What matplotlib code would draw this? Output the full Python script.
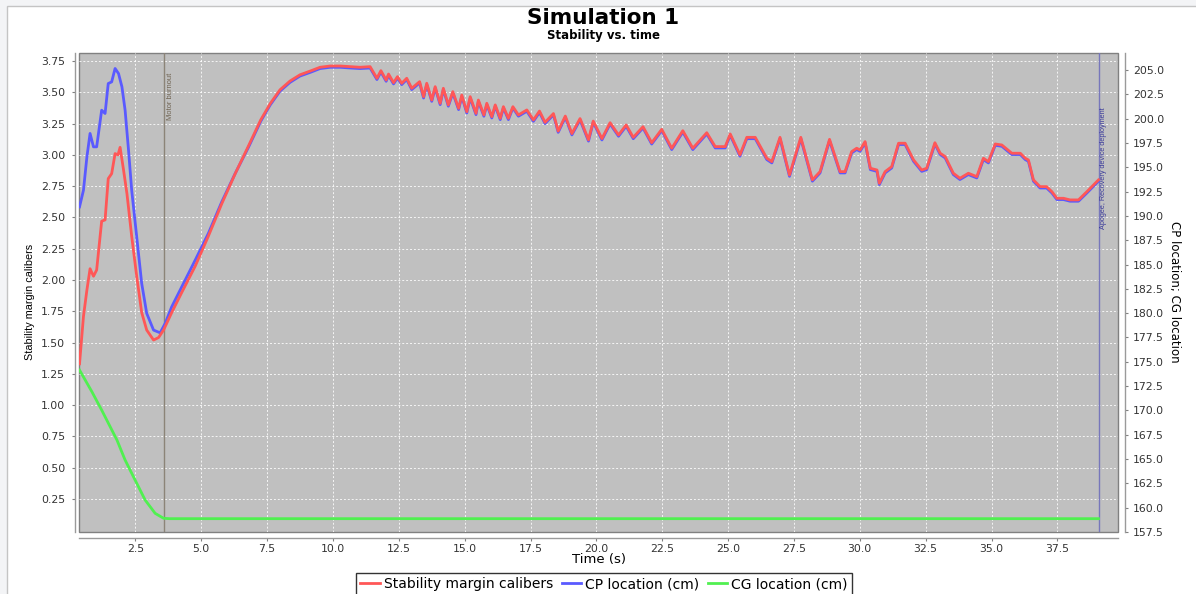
import matplotlib
matplotlib.use("Agg")
import numpy as np
import matplotlib.pyplot as plt
from matplotlib.patches import Rectangle
from matplotlib.ticker import FormatStrFormatter

# Stability margin (calibers) -> left axis
stab_time = [0.38, 0.53, 0.66, 0.78, 0.91, 1.03, 1.22, 1.35, 1.47, 1.60, 1.73, 1.84, 1.92,
             2.05, 2.18, 2.36, 2.55, 2.74, 2.93, 3.19, 3.38, 3.57, 3.88, 4.26, 4.77, 5.27,
             5.78, 6.29, 6.79, 7.26, 7.62, 7.99, 8.37, 8.75, 9.14, 9.51, 9.89, 10.28, 10.65,
             11.03, 11.41, 11.67, 11.82, 12.02, 12.11, 12.30, 12.45, 12.61, 12.80, 12.99,
             13.29, 13.44, 13.56, 13.75, 13.88, 14.07, 14.19, 14.38, 14.55, 14.77, 14.89,
             15.08, 15.21, 15.43, 15.52, 15.73, 15.84, 16.03, 16.16, 16.35, 16.47, 16.66,
             16.83, 17.04, 17.36, 17.61, 17.84, 18.05, 18.37, 18.55, 18.82, 19.07, 19.38,
             19.70, 19.88, 20.21, 20.52, 20.84, 21.13, 21.40, 21.77, 22.10, 22.48, 22.86,
             23.28, 23.66, 24.19, 24.51, 24.89, 25.08, 25.45, 25.71, 26.03, 26.47, 26.66,
             26.97, 27.33, 27.76, 28.20, 28.49, 28.85, 29.25, 29.44, 29.69, 29.88, 30.01,
             30.20, 30.40, 30.65, 30.74, 30.96, 31.21, 31.47, 31.72, 32.04, 32.35, 32.54,
             32.85, 33.05, 33.24, 33.55, 33.80, 34.12, 34.44, 34.69, 34.88, 35.14, 35.39,
             35.77, 36.09, 36.28, 36.40, 36.59, 36.84, 37.09, 37.29, 37.48, 37.73, 37.98,
             38.30, 38.62, 39.06]
stab_cal = [1.33, 1.71, 1.92, 2.09, 2.03, 2.08, 2.47, 2.48, 2.81, 2.85, 3.01, 3.00, 3.06,
            2.88, 2.69, 2.35, 2.03, 1.74, 1.60, 1.52, 1.54, 1.60, 1.74, 1.90, 2.11, 2.35,
            2.61, 2.85, 3.07, 3.28, 3.41, 3.52, 3.59, 3.64, 3.67, 3.70, 3.71, 3.71, 3.705,
            3.70, 3.705, 3.612, 3.673, 3.598, 3.646, 3.577, 3.625, 3.572, 3.612, 3.532,
            3.585, 3.465, 3.572, 3.438, 3.545, 3.412, 3.532, 3.399, 3.505, 3.372, 3.478,
            3.345, 3.465, 3.332, 3.438, 3.319, 3.412, 3.305, 3.399, 3.292, 3.385, 3.292,
            3.385, 3.319, 3.359, 3.279, 3.35, 3.26, 3.33, 3.19, 3.31, 3.17, 3.29,
            3.12, 3.27, 3.13, 3.257, 3.159, 3.239, 3.140, 3.225, 3.097, 3.204, 3.053,
            3.193, 3.053, 3.177, 3.066, 3.066, 3.167, 3.00, 3.140, 3.140, 2.973, 2.946,
            3.140, 2.839, 3.140, 2.800, 2.866, 3.124, 2.866, 2.866, 3.026, 3.053, 3.039,
            3.106, 2.893, 2.879, 2.773, 2.866, 2.906, 3.093, 3.093, 2.959, 2.879, 2.893,
            3.097, 3.013, 2.986, 2.853, 2.813, 2.853, 2.826, 2.973, 2.946, 3.087, 3.079,
            3.013, 3.013, 2.973, 2.959, 2.800, 2.746, 2.746, 2.706, 2.653, 2.653, 2.640,
            2.640, 2.706, 2.800]

# CP location (cm) -> right axis
cp_time = [0.38, 0.53, 0.66, 0.78, 0.91, 1.03, 1.22, 1.35, 1.47, 1.60, 1.73, 1.86, 1.99,
           2.11, 2.24, 2.36, 2.55, 2.74, 2.93, 3.19, 3.44, 3.63, 3.88, 4.26, 4.77, 5.27,
           5.78, 6.29] + stab_time[28:]
cp_cm = [190.93, 192.65, 196.07, 198.48, 197.10, 197.10, 200.87, 200.53, 203.61, 203.78,
         205.16, 204.64, 203.27, 200.87, 196.76, 192.65, 187.85, 183.06, 179.98, 178.26,
         177.98, 178.95, 180.66, 182.71, 185.45, 188.20, 191.45, 194.37,
         197.04, 199.74, 201.42, 202.83, 203.73, 204.38, 204.76, 205.15, 205.28, 205.28,
         205.21, 205.15, 205.21, 204.02, 204.80, 203.84, 204.45, 203.57, 204.18, 203.50,
         204.02, 202.99, 203.67, 202.12, 203.50, 201.78, 203.15, 201.44, 202.99, 201.28,
         202.64, 200.93, 202.29, 200.58, 202.12, 200.41, 201.78, 200.25, 201.44, 200.07,
         201.28, 199.90, 201.10, 199.90, 201.10, 200.25, 200.76, 199.73, 200.64, 199.49,
         200.39, 198.59, 200.13, 198.33, 199.87, 197.69, 199.62, 197.81, 199.45, 198.19,
         199.22, 197.94, 199.04, 197.39, 198.77, 196.82, 198.62, 196.82, 198.42, 196.99,
         196.99, 198.29, 196.14, 197.94, 197.94, 195.79, 195.45, 197.94, 194.07, 197.94,
         193.57, 194.42, 197.74, 194.42, 194.42, 196.48, 196.82, 196.64, 197.51, 194.76,
         194.58, 193.22, 194.42, 194.93, 197.34, 197.34, 195.61, 194.58, 194.76, 197.39,
         196.31, 195.96, 194.25, 193.74, 194.25, 193.90, 195.79, 195.45, 197.26, 197.16,
         196.31, 196.31, 195.79, 195.61, 193.57, 192.87, 192.87, 192.36, 191.68, 191.68,
         191.51, 191.51, 192.36, 193.57]

# CG location (cm) -> right axis
cg_time = [0.38, 0.85, 1.22, 1.80, 2.11, 2.49, 2.87, 3.25, 3.57, 3.80, 39.06]
cg_cm = [174.15, 171.92, 170.04, 166.96, 164.90, 162.84, 160.79, 159.42, 158.91, 158.87, 158.87]

motor_burnout_t = 3.59
apogee_t = 39.07

W, H = 1196, 594
fig = plt.figure(figsize=(W / 100, H / 100), dpi=100, facecolor='#f3f4f6')
fig.add_artist(Rectangle((7 / W, -0.1), 1.1, 1.1 - 6 / H, transform=fig.transFigure,
                         facecolor='white', edgecolor='#c4c4c4', lw=1, zorder=-1))

ax1 = fig.add_axes([79 / W, 1 - 532 / H, (1118 - 79) / W, (532 - 53) / H])
ax1.set_facecolor('#c0c0c0')
ax1.patch.set_edgecolor('#808080')
ax1.patch.set_linewidth(1.0)
ax2 = ax1.twinx()

ax1.set_xlim(0.36, 39.8)
ax1.set_ylim(-0.014, 3.814)
ax2.set_ylim(157.5, 206.75)

ax1.set_xticks(np.arange(2.5, 39, 2.5))
ax1.set_yticks(np.arange(0.25, 3.8, 0.25))
ax2.set_yticks(np.arange(157.5, 206, 2.5))
ax1.xaxis.set_major_formatter(FormatStrFormatter('%.1f'))
ax1.yaxis.set_major_formatter(FormatStrFormatter('%.2f'))
ax2.yaxis.set_major_formatter(FormatStrFormatter('%.1f'))

ax1.grid(True, color='white', linestyle=(0, (2, 2)), linewidth=0.7, alpha=0.85)
ax1.set_axisbelow(True)

for s in ['top', 'right']:
    ax1.spines[s].set_visible(False)
for s in ['top', 'left', 'bottom']:
    ax2.spines[s].set_visible(False)
ax1.spines['left'].set_position(('outward', 3))
ax1.spines['bottom'].set_position(('outward', 4))
ax2.spines['right'].set_position(('outward', 5))
for sp in [ax1.spines['left'], ax1.spines['bottom'], ax2.spines['right']]:
    sp.set_color('#9a9a9a')
    sp.set_linewidth(1.0)

ax1.tick_params(axis='both', length=2, width=0.8, color='#808080', labelsize=7.8,
                labelcolor='#333333')
ax1.tick_params(axis='y', pad=5)
ax1.tick_params(axis='x', pad=3)
ax2.tick_params(axis='y', length=2, width=0.8, color='#808080', labelsize=7.8,
                labelcolor='#333333', pad=4)

# event markers
ax1.axvline(motor_burnout_t, color='#8c8478', lw=1.0, zorder=1.5)
ax1.axvline(apogee_t, color='#7777bb', lw=1.0, zorder=1.5)
ax1.text(motor_burnout_t + 0.1, 0.958, 'Motor burnout', transform=ax1.get_xaxis_transform(),
         rotation=90, ha='left', va='top', fontsize=5.4, color='#6e6250',
         family='Liberation Sans')
ax1.text(apogee_t + 0.06, 0.887, 'Apogee, Recovery device deployment',
         transform=ax1.get_xaxis_transform(), rotation=90, ha='left', va='top',
         fontsize=5.2, color='#3a3a9a', family='Liberation Sans')

# curves
l_cg, = ax2.plot(cg_time, cg_cm, color='#50f050', lw=2.0, zorder=2)
l_cp, = ax2.plot(cp_time, cp_cm, color='#5a5aff', lw=2.0, zorder=2)
l_st, = ax2.plot(stab_time, stab_cal, color='#ff5757', lw=2.0, zorder=3,
                 transform=ax1.transData)

# titles and axis labels
fig.text(603 / W, 1 - 18 / H, 'Simulation 1', ha='center', va='center',
         fontsize=15.5, fontweight='bold')
fig.text(603 / W, 1 - 36 / H, 'Stability vs. time', ha='center', va='center',
         fontsize=8.5, fontweight='bold')
fig.text(599 / W, 1 - 560 / H, 'Time (s)', ha='center', va='center', fontsize=9.5)
fig.text(30 / W, 1 - 302 / H, 'Stability margin calibers', ha='center', va='center',
         rotation=90, fontsize=7.8, family='Liberation Sans')
fig.text(1175 / W, 1 - 292 / H, 'CP location; CG location', ha='center', va='center',
         rotation=270, fontsize=8.5)

fig.legend([l_st, l_cp, l_cg],
           ['Stability margin calibers', 'CP location (cm)', 'CG location (cm)'],
           loc='upper center', bbox_to_anchor=(604 / W, 1 - 573 / H), ncol=3,
           fontsize=10, frameon=True, fancybox=False, edgecolor='#333333',
           framealpha=1, handlelength=1.4, handletextpad=0.3, columnspacing=0.6,
           borderpad=0.3, borderaxespad=0)

fig.savefig('out.png', dpi=100, facecolor=fig.get_facecolor())
